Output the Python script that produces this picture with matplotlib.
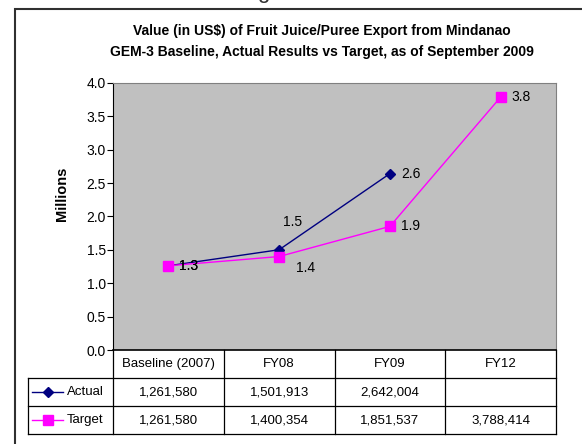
import matplotlib
matplotlib.use('Agg')
import matplotlib.pyplot as plt
from matplotlib.patches import Rectangle
from matplotlib.lines import Line2D

plt.rcParams['font.family'] = ['Liberation Sans', 'DejaVu Sans']

# data
categories = ['Baseline (2007)', 'FY08', 'FY09', 'FY12']
actual = [1261580, 1501913, 2642004, None]
target = [1261580, 1400354, 1851537, 3788414]
series_names = ['Actual', 'Target']

W, H = 582, 444


def fx(px):
    return px / W


def fy(py):
    return 1 - py / H


fig = plt.figure(figsize=(W / 100, H / 100), dpi=100)

# outer chart border (cut off on the right and bottom like the screenshot)
fig.patches.append(Rectangle((fx(15), fy(640)), fx(640), fy(9) - fy(640),
                             transform=fig.transFigure, fill=False,
                             edgecolor='#303030', linewidth=1.5))
# fragment of text above the chart
fig.text(fx(263), fy(-2), 'g', fontsize=16, ha='center', va='baseline', color='#303030')

fig.text(fx(322), fy(31), 'Value (in US$) of Fruit Juice/Puree Export from Mindanao',
         ha='center', va='center', fontsize=10, fontweight='bold')
fig.text(fx(322), fy(52), 'GEM-3 Baseline, Actual Results vs Target, as of September 2009',
         ha='center', va='center', fontsize=10, fontweight='bold')

left, right, top, bottom = 113, 556, 83, 350
ax = fig.add_axes([fx(left), fy(bottom), fx(right - left), fy(top) - fy(bottom)])
ax.set_facecolor('#c0c0c0')
ax.set_xlim(-0.5, len(categories) - 0.5)
ax.set_ylim(0, 4)
ax.set_yticks([i * 0.5 for i in range(9)])
ax.set_yticklabels(['%.1f' % (i * 0.5) for i in range(9)], fontsize=10)
ax.set_xticks([])
ax.tick_params(axis='y', direction='out', length=4, width=0.8, pad=1)
ax.spines['left'].set_color('black')
ax.spines['bottom'].set_color('black')
ax.spines['bottom'].set_linewidth(1.2)
ax.spines['top'].set_color('#808080')
ax.spines['right'].set_color('#808080')
fig.text(fx(62), fy(194), 'Millions', rotation=90, ha='center', va='center',
         fontsize=10.5, fontweight='bold')

xs = list(range(len(categories)))
act_x = [x for x, v in zip(xs, actual) if v is not None]
act_y = [v / 1e6 for v in actual if v is not None]
tar_y = [v / 1e6 for v in target]

ax.plot(act_x, act_y, color='#000080', linewidth=1, marker='D', markersize=5)
ax.plot(xs, tar_y, color='#ff00ff', linewidth=1, marker='s', markersize=6.5)

# data labels, offsets in points
act_offsets = [(8, 0), (3, 20), (8, 0)]
tar_offsets = [(8, 0), (12, -8), (8, 0), (8, 0)]
for x, y, off in zip(act_x, act_y, act_offsets):
    ax.annotate('%.1f' % y, (x, y), xytext=off, textcoords='offset points',
                ha='left', va='center', fontsize=10)
for x, y, off in zip(xs, tar_y, tar_offsets):
    ax.annotate('%.1f' % y, (x, y), xytext=off, textcoords='offset points',
                ha='left', va='center', fontsize=10)

# data table under the plot
tab = fig.add_axes([fx(left), fy(434), fx(right - left), fy(bottom) - fy(434)])
tab.set_xlim(-0.5, len(categories) - 0.5)
tab.set_ylim(3, 0)
tab.axis('off')
x_leg = -0.5 - (left - 28) / ((right - left) / len(categories))
line_kw = dict(color='black', linewidth=0.9, clip_on=False)
for b in range(len(categories) + 1):
    tab.plot([b - 0.5, b - 0.5], [0, 3], **line_kw)
for r in [1, 2, 3]:
    tab.plot([x_leg, len(categories) - 0.5], [r, r], **line_kw)
tab.plot([x_leg, x_leg], [1, 3], **line_kw)

for x, c in zip(xs, categories):
    tab.text(x, 0.5, c, ha='center', va='center', fontsize=9.5)
for row, vals in zip([1.5, 2.5], [actual, target]):
    for x, v in zip(xs, vals):
        if v is not None:
            tab.text(x, row, '{:,}'.format(v), ha='center', va='center', fontsize=9.5)

# legend keys in the first column
unit = (right - left) / len(categories)
l0 = -0.5 - (left - 32) / unit
l1 = -0.5 - (left - 63) / unit
lm = -0.5 - (left - 48) / unit
tx = -0.5 - (left - 67) / unit
for row, name, col, mk, ms in [(1.5, series_names[0], '#000080', 'D', 5),
                               (2.5, series_names[1], '#ff00ff', 's', 6.5)]:
    tab.add_line(Line2D([l0, l1], [row, row], color=col, linewidth=1, clip_on=False))
    tab.add_line(Line2D([lm], [row], color=col, marker=mk, markersize=ms, clip_on=False))
    tab.text(tx, row, name, ha='left', va='center', fontsize=9.5)

fig.savefig('out.png', dpi=100)
